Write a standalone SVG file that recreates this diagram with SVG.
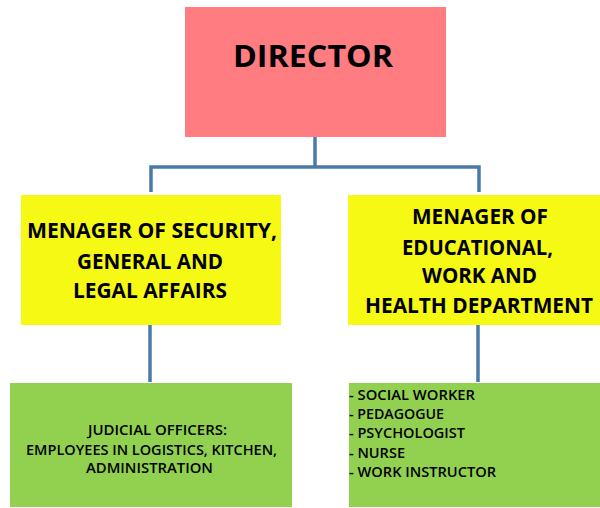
<svg xmlns="http://www.w3.org/2000/svg" width="600" height="508" viewBox="0 0 600 508">
<style>
.t{font-family:"Open Sans","Noto Sans","Liberation Sans",sans-serif;fill:#000;}
.b{font-weight:bold;}
.s{font-weight:600;font-size:13.5px;}
.c{text-anchor:middle;}
.con{fill:none;stroke:#4a7aa8;stroke-width:3.5;}
</style>
<rect width="600" height="508" fill="#fff"/>
<g id="connectors">
<path class="con" d="M315 137 V167 M151 192 V167 H479 V192"/>
<path class="con" d="M150 325 V382"/>
<path class="con" d="M478 325 V382"/>
</g>
<g id="director">
<rect x="185" y="7" width="261" height="130" fill="#ff7c80"/>
<text class="t b" x="233" y="67" font-size="31" textLength="160" lengthAdjust="spacingAndGlyphs">DIRECTOR</text>
</g>
<g id="manager-security">
<rect x="21" y="195" width="260" height="130" fill="#f6f914"/>
<text class="t b" font-size="21" x="27" y="238" textLength="250" lengthAdjust="spacingAndGlyphs">MENAGER OF SECURITY,</text>
<text class="t b" font-size="21" x="77" y="269" textLength="146" lengthAdjust="spacingAndGlyphs">GENERAL AND</text>
<text class="t b" font-size="21" x="73" y="298" textLength="154" lengthAdjust="spacingAndGlyphs">LEGAL AFFAIRS</text>
</g>
<g id="manager-education">
<rect x="348" y="195" width="252" height="130" fill="#f6f914"/>
<text class="t b" font-size="21" x="412" y="224" textLength="136" lengthAdjust="spacingAndGlyphs">MENAGER OF</text>
<text class="t b" font-size="21" x="402" y="255" textLength="151" lengthAdjust="spacingAndGlyphs">EDUCATIONAL,</text>
<text class="t b" font-size="21" x="422" y="283" textLength="115" lengthAdjust="spacingAndGlyphs">WORK AND</text>
<text class="t b" font-size="21" x="365" y="313" textLength="228" lengthAdjust="spacingAndGlyphs">HEALTH DEPARTMENT</text>
</g>
<g id="staff-security">
<rect x="10" y="383" width="282" height="124" fill="#92d050"/>
<text class="t s" x="88" y="435" textLength="139" lengthAdjust="spacingAndGlyphs">JUDICIAL OFFICERS:</text>
<text class="t s" x="26" y="455" textLength="251" lengthAdjust="spacingAndGlyphs">EMPLOYEES IN LOGISTICS, KITCHEN,</text>
<text class="t s" x="86" y="473" textLength="127" lengthAdjust="spacingAndGlyphs">ADMINISTRATION</text>
</g>
<g id="staff-education">
<rect x="349" y="383" width="251" height="124" fill="#92d050"/>
<text class="t s" x="349" y="400" textLength="126" lengthAdjust="spacingAndGlyphs">- SOCIAL WORKER</text>
<text class="t s" x="349" y="419" textLength="95" lengthAdjust="spacingAndGlyphs">- PEDAGOGUE</text>
<text class="t s" x="349" y="438" textLength="116" lengthAdjust="spacingAndGlyphs">- PSYCHOLOGIST</text>
<text class="t s" x="349" y="458" textLength="56" lengthAdjust="spacingAndGlyphs">- NURSE</text>
<text class="t s" x="349" y="477" textLength="147" lengthAdjust="spacingAndGlyphs">- WORK INSTRUCTOR</text>
</g>
</svg>
